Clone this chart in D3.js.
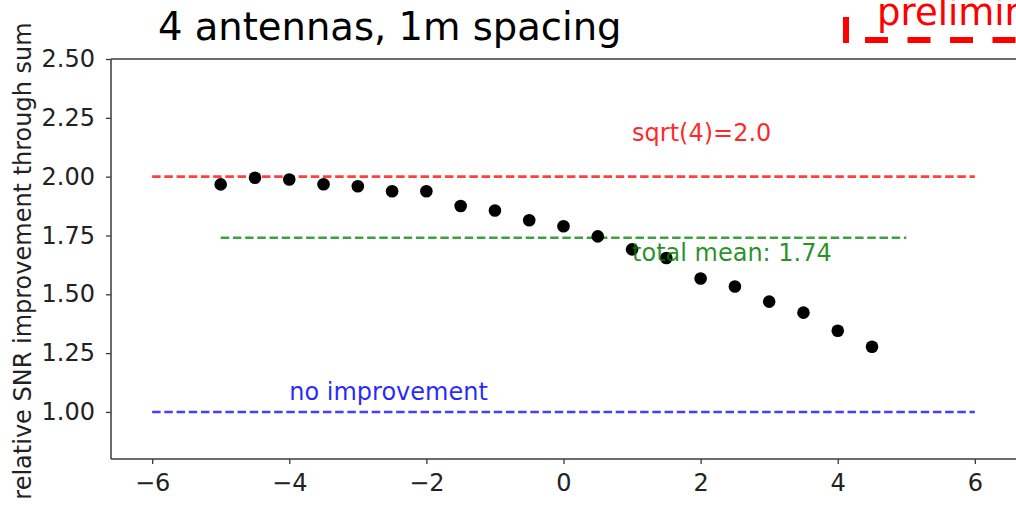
<!DOCTYPE html>
<html>
<head>
<meta charset="utf-8">
<script src="https://cdn.jsdelivr.net/npm/d3@7"></script>
<style>
  html, body { margin: 0; padding: 0; background: #fff; }
  svg { display: block; }
  text { font-family: "DejaVu Sans", sans-serif; }
</style>
</head>
<body>
<script>
// Antenna offset positions (x) and the measured SNR gain of the summed signal
const offsets = [-5, -4.5, -4, -3.5, -3, -2.5, -2, -1.5, -1, -0.5, 0, 0.5, 1, 1.5, 2, 2.5, 3, 3.5, 4, 4.5];
const snrGain = [1.967, 1.995, 1.988, 1.968, 1.959, 1.938, 1.938, 1.875, 1.856, 1.815, 1.789, 1.746, 1.691, 1.654, 1.567, 1.533, 1.469, 1.422, 1.345, 1.277];

// Reference levels
const idealGain = 2.0;      // sqrt(4)
const meanGain = 1.74;      // average over all offsets
const baseGain = 1.0;       // no improvement

const xTicks = [-6, -4, -2, 0, 2, 4, 6];
const yTicks = [1.00, 1.25, 1.50, 1.75, 2.00, 2.25, 2.50];

const titleText = "4 antennas, 1m spacing";
const stampText = "preliminary";
const yLabel = "relative SNR improvement through sum";

const W = 1016, H = 506;
const svg = d3.select("body").append("svg")
  .attr("width", W).attr("height", H)
  .style("background", "#fff");

const x = d3.scaleLinear().domain([-6.6, 6.6]).range([111, 1016]);
const y = d3.scaleLinear().domain([0.8, 2.5]).range([459, 59]);

const FONT = 24;

// Axes frame (right edge runs off the page)
const frame = svg.append("g").attr("stroke", "#3a3a3a").attr("stroke-width", 1.5).attr("fill", "none");
frame.append("line").attr("x1", x.range()[0]).attr("x2", W + 2).attr("y1", y(2.5)).attr("y2", y(2.5));
frame.append("line").attr("x1", x.range()[0]).attr("x2", W + 2).attr("y1", y(0.8)).attr("y2", y(0.8));
frame.append("line").attr("x1", x.range()[0]).attr("x2", x.range()[0]).attr("y1", y(2.5)).attr("y2", y(0.8));

// x axis
const xAxis = svg.append("g")
  .attr("transform", `translate(0,${y(0.8)})`)
  .call(d3.axisBottom(x).tickValues(xTicks).tickSize(5).tickPadding(10).tickFormat(d3.format("d")));
xAxis.select(".domain").remove();
xAxis.selectAll(".tick line").attr("stroke", "#3a3a3a").attr("stroke-width", 1.3);
xAxis.selectAll(".tick text").attr("font-size", FONT).attr("fill", "#222")
  .attr("font-family", "DejaVu Sans");

// y axis
const yAxis = svg.append("g")
  .attr("transform", `translate(${x.range()[0]},0)`)
  .call(d3.axisLeft(y).tickValues(yTicks).tickSize(5).tickPadding(11).tickFormat(d3.format(".2f")));
yAxis.select(".domain").remove();
yAxis.selectAll(".tick line").attr("stroke", "#3a3a3a").attr("stroke-width", 1.3);
yAxis.selectAll(".tick text").attr("font-size", FONT).attr("fill", "#222")
  .attr("font-family", "DejaVu Sans");

// y label
svg.append("text")
  .attr("transform", `translate(31,${(y(2.5) + y(0.8)) / 2 + 2}) rotate(-90)`)
  .attr("text-anchor", "middle")
  .attr("font-size", FONT)
  .attr("fill", "#222")
  .text(yLabel);

// Reference lines
const refs = [
  { v: idealGain, from: -6, to: 6, color: "#ff0000" },
  { v: meanGain, from: -5, to: 5, color: "#008000" },
  { v: baseGain, from: -6, to: 6, color: "#0000ff" }
];
svg.append("g").selectAll("line").data(refs).join("line")
  .attr("x1", d => x(d.from)).attr("x2", d => x(d.to))
  .attr("y1", d => y(d.v)).attr("y2", d => y(d.v))
  .attr("stroke", d => d.color)
  .attr("stroke-opacity", 0.75)
  .attr("stroke-width", 2.6)
  .attr("stroke-dasharray", "8.5,3.7");

// Data points
svg.append("g").selectAll("circle").data(offsets).join("circle")
  .attr("cx", d => x(d))
  .attr("cy", (d, i) => y(snrGain[i]))
  .attr("r", 6.3)
  .attr("fill", "#000");

// Annotations
const notes = [
  { tx: 1, ty: 2.15, text: "sqrt(4)=" + idealGain.toFixed(1), color: "#ff0000" },
  { tx: 1, ty: meanGain - 0.1, text: "total mean: " + meanGain.toFixed(2), color: "#008000" },
  { tx: -4, ty: baseGain + 0.05, text: "no improvement", color: "#0000ff" }
];
svg.append("g").selectAll("text").data(notes).join("text")
  .attr("x", d => x(d.tx))
  .attr("y", d => y(d.ty))
  .attr("font-size", FONT)
  .attr("fill", d => d.color)
  .attr("fill-opacity", 0.85)
  .text(d => d.text);

// Slide title
svg.append("text")
  .attr("x", 158).attr("y", 40)
  .attr("font-family", "Lato, 'Open Sans', sans-serif")
  .attr("font-size", 38.5)
  .attr("fill", "#000")
  .text(titleText);

// "preliminary" stamp in a dashed red box (runs off the page edge)
svg.append("text")
  .attr("x", 877).attr("y", 25)
  .attr("font-family", "Lato, 'Open Sans', sans-serif")
  .attr("font-size", 37)
  .attr("fill", "#ff0000")
  .text(stampText);
const stamp = svg.append("g").attr("stroke", "#ff0000").attr("stroke-width", 6).attr("fill", "none");
stamp.append("line").attr("x1", 846).attr("x2", 846).attr("y1", 17).attr("y2", 43);
stamp.append("line").attr("x1", 865).attr("x2", W + 10).attr("y1", 40).attr("y2", 40)
  .attr("stroke-dasharray", "23,19.5");
</script>
</body>
</html>
